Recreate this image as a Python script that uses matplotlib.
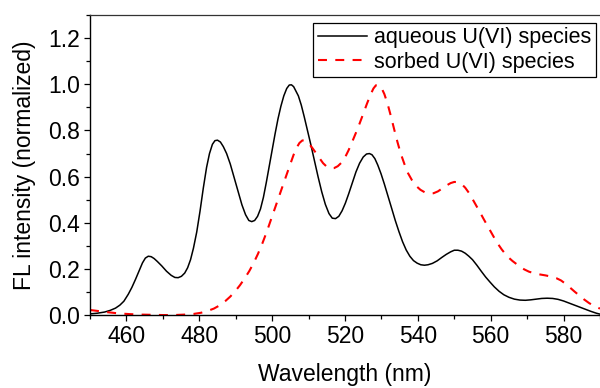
import matplotlib
matplotlib.use("Agg")
import matplotlib.pyplot as plt
from matplotlib.ticker import MultipleLocator, FormatStrFormatter

# wavelength (nm) / normalized FL intensity
aq_wl = [450, 452, 454, 455.5, 457, 458.2, 459.3, 460.5, 461.5, 462.5, 463.5,
         464.4, 465.2, 466, 466.8, 467.6, 468.5, 469.7, 471, 472.3, 473.3, 474.2,
         475.1, 476, 476.8, 477.6, 478.4, 479.3, 480.2, 481.1, 482, 482.8, 483.6,
         484.3, 485, 485.8, 486.6, 487.5, 488.5, 489.5, 490.6, 491.7, 492.7, 493.6,
         494.4, 495.2, 496, 496.8, 497.6, 498.4, 499.2, 500, 500.8, 501.6, 502.4,
         503.2, 504, 504.7, 505.3, 505.9, 506.5, 507.2, 508, 508.8, 509.7, 510.6,
         511.6, 512.6, 513.6, 514.6, 515.6, 516.5, 517.4, 518.3, 519.2, 520.1,
         521, 522, 523, 524, 525, 525.9, 526.7, 527.4, 528.2, 529, 529.9, 530.8,
         531.8, 532.8, 533.8, 534.8, 535.8, 536.8, 537.8, 538.8, 539.8, 540.8,
         541.8, 542.8, 544, 545.3, 546.6, 547.8, 549, 550, 551, 552, 553, 554,
         555, 556.2, 557.4, 558.6, 559.8, 561, 562.3, 563.6, 565, 566.5, 568,
         569.5, 571, 572.5, 574, 575.5, 577, 578.5, 580, 581.5, 583, 584.5, 586,
         587.5, 589, 590]
aq_fl = [0.005, 0.008, 0.013, 0.02, 0.03, 0.043, 0.06, 0.09, 0.12, 0.155, 0.192,
         0.226, 0.247, 0.255, 0.253, 0.245, 0.232, 0.213, 0.19, 0.172, 0.163, 0.162,
         0.168, 0.182, 0.205, 0.24, 0.29, 0.36, 0.45, 0.55, 0.64, 0.7, 0.74, 0.756,
         0.758, 0.75, 0.73, 0.7, 0.655, 0.6, 0.538, 0.478, 0.435, 0.41, 0.405,
         0.41, 0.428, 0.46, 0.51, 0.575, 0.645, 0.715, 0.785, 0.85, 0.905, 0.95,
         0.982, 0.997, 0.998, 0.99, 0.972, 0.95, 0.91, 0.86, 0.8, 0.74, 0.67, 0.6,
         0.535, 0.48, 0.44, 0.42, 0.418, 0.428, 0.452, 0.485, 0.525, 0.573, 0.62,
         0.658, 0.685, 0.698, 0.7, 0.695, 0.678, 0.65, 0.612, 0.568, 0.516, 0.463,
         0.41, 0.362, 0.318, 0.282, 0.255, 0.236, 0.225, 0.218, 0.216, 0.218,
         0.224, 0.235, 0.25, 0.263, 0.274, 0.281, 0.281, 0.277, 0.268, 0.255,
         0.24, 0.216, 0.19, 0.165, 0.143, 0.122, 0.103, 0.088, 0.077, 0.069, 0.065,
         0.064, 0.066, 0.069, 0.072, 0.073, 0.072, 0.068, 0.061, 0.052, 0.043,
         0.034, 0.025, 0.016, 0.008, 0.004]

sorb_wl = [450, 452, 455, 458, 461, 464, 467, 470, 473, 476, 478.5, 480.5, 482.3,
           484, 485.6, 487.1, 488.5, 489.9, 491.2, 492.5, 493.7, 494.9, 496.1,
           497.3, 498.5, 499.6, 500.7, 501.8, 502.9, 504, 505, 505.9, 506.7, 507.5,
           508.3, 509.1, 510, 511, 512, 513, 514, 515, 516, 517, 518, 519, 520,
           521, 522, 523, 524, 525, 526, 527, 527.8, 528.5, 529.2, 530, 530.8,
           531.7, 532.6, 533.5, 534.4, 535.3, 536.3, 537.3, 538.4, 539.5, 540.7,
           541.9, 543.1, 544.3, 545.5, 546.7, 547.9, 549, 550, 551, 552, 553,
           554, 555, 556, 557, 558, 559, 560, 561, 562, 563, 564, 565, 566, 567,
           568, 569.2, 570.5, 572, 573.5, 575, 576.5, 578, 579.3, 580.5, 581.7,
           583, 584.3, 585.6, 587, 588.5, 590]
sorb_fl = [0.022, 0.018, 0.012, 0.007, 0.004, 0.002, 0.001, 0.0, 0.0, 0.002,
           0.005, 0.01, 0.018, 0.028, 0.042, 0.06, 0.08, 0.104, 0.13, 0.16, 0.19,
           0.225, 0.265, 0.31, 0.36, 0.41, 0.46, 0.51, 0.56, 0.61, 0.655, 0.695,
           0.725, 0.746, 0.757, 0.756, 0.745, 0.725, 0.703, 0.68, 0.658, 0.643,
           0.636, 0.637, 0.645, 0.66, 0.683, 0.715, 0.752, 0.79, 0.83, 0.872, 0.915,
           0.955, 0.982, 0.996, 0.997, 0.985, 0.958, 0.915, 0.862, 0.805, 0.75,
           0.7, 0.655, 0.615, 0.584, 0.56, 0.543, 0.532, 0.527, 0.528, 0.536,
           0.549, 0.562, 0.572, 0.577, 0.576, 0.568, 0.552, 0.53, 0.503, 0.475,
           0.447, 0.418, 0.39, 0.362, 0.334, 0.308, 0.285, 0.265, 0.248, 0.234,
           0.222, 0.21, 0.198, 0.188, 0.181, 0.176, 0.172, 0.167, 0.16, 0.15,
           0.136, 0.12, 0.102, 0.085, 0.068, 0.052, 0.038, 0.028]

plt.rcParams.update({
    "font.family": "Liberation Sans",
    "font.size": 16.5,
})

fig = plt.figure(figsize=(6, 3.88), dpi=100)
ax = fig.add_axes([0.15, 0.188, 0.85, 0.773])

ax.plot(aq_wl, aq_fl, color="black", lw=1.1, label="aqueous U(VI) species")
ax.plot(sorb_wl, sorb_fl, color="#ff0000", lw=1.5, ls=(0, (4.3, 4.0)),
        label="sorbed U(VI) species")

ax.set_xlim(450, 590)
ax.set_ylim(0, 1.3)
ax.xaxis.set_major_locator(MultipleLocator(20))
ax.xaxis.set_minor_locator(MultipleLocator(10))
ax.yaxis.set_major_locator(MultipleLocator(0.2))
ax.yaxis.set_minor_locator(MultipleLocator(0.1))
ax.yaxis.set_major_formatter(FormatStrFormatter("%.1f"))
ax.tick_params(which="major", direction="out", length=4, width=0.9, pad=3)
ax.tick_params(which="minor", direction="out", length=3, width=0.9)
ax.spines["right"].set_visible(False)
for s in ("left", "bottom"):
    ax.spines[s].set_linewidth(1.0)
ax.spines["top"].set_linewidth(0.9)
ax.spines["top"].set_color("#333333")

ax.set_xlabel("Wavelength (nm)", labelpad=11)
ax.set_ylabel("FL intensity (normalized)", labelpad=9)

leg = ax.legend(loc="upper right", bbox_to_anchor=(0.993, 0.975), fontsize=15.5,
                frameon=True, fancybox=False, framealpha=1, borderpad=0.22,
                handlelength=2.3, handletextpad=0.33, labelspacing=0.15,
                borderaxespad=0)
leg.get_frame().set_edgecolor("black")
leg.get_frame().set_linewidth(0.9)

fig.savefig("out.png", dpi=100)
